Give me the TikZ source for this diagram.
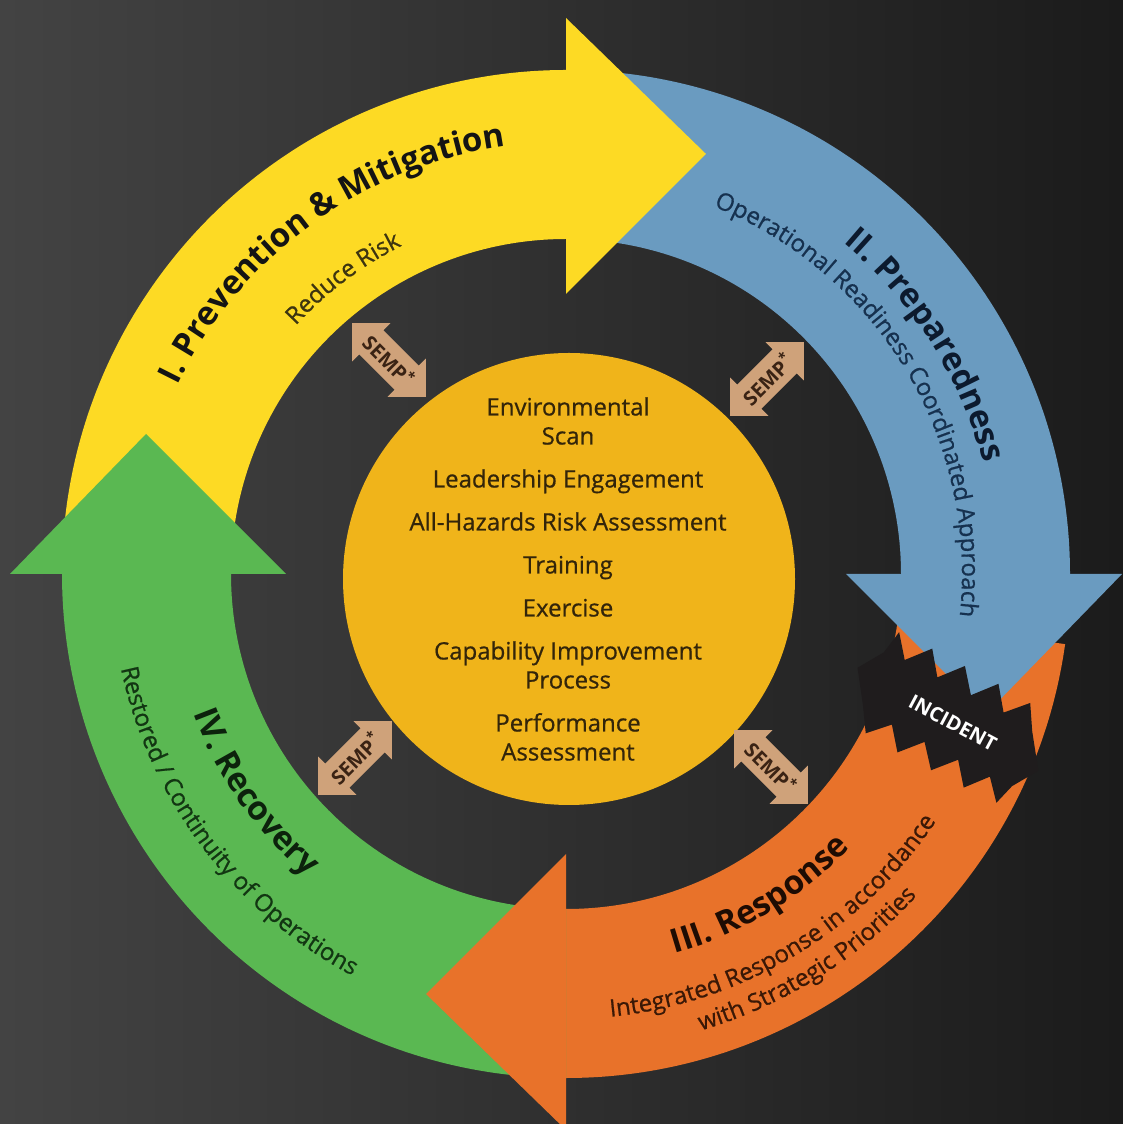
\documentclass[tikz,border=0pt]{standalone}
\usepackage{fontspec}
\setmainfont{Open Sans}
\newfontfamily\medfont{Open Sans}[FakeBold=0.7]
\usetikzlibrary{decorations.text,calc}
\definecolor{bgL}{HTML}{434343}
\definecolor{bgM}{HTML}{3C3C3C}
\definecolor{bgR}{HTML}{1B1B1B}
\definecolor{ylw}{HTML}{FDDA24}
\definecolor{blu}{HTML}{6A9BC0}
\definecolor{org}{HTML}{E8722A}
\definecolor{grn}{HTML}{5AB852}
\definecolor{disk}{HTML}{F0B41A}
\definecolor{disktext}{HTML}{33250A}
\definecolor{tanc}{HTML}{CFA27A}
\definecolor{semptext}{HTML}{3A2314}
\definecolor{ytt}{HTML}{141414}
\definecolor{yst}{HTML}{3D3510}
\definecolor{btt}{HTML}{0C1A2E}
\definecolor{bst}{HTML}{16314F}
\definecolor{gtt}{HTML}{0C220C}
\definecolor{gst}{HTML}{123612}
\definecolor{ott}{HTML}{1E0C03}
\definecolor{ost}{HTML}{3A1806}
\definecolor{burst}{HTML}{1F1C1D}
\newcommand\ArcTitle{\fontsize{33}{36}\selectfont\bfseries}
\newcommand\ArcSub{\medfont\fontsize{24}{27}\selectfont}
\tikzset{
  arctext/.style={decorate,decoration={text along path,text align=center,text={#1}}},
  semp/.pic={
    \fill[tanc] (-52,0) -- (-25,27) -- (-25,17) -- (25,17) -- (25,27) -- (52,0)
      -- (25,-27) -- (25,-17) -- (-25,-17) -- (-25,-27) -- cycle;
    \node[transform shape,font=\fontsize{20}{20}\selectfont\bfseries,text=semptext,inner sep=0pt] {SEMP\textsuperscript{*}};
  }
}
\begin{document}
\begin{tikzpicture}[x=1pt,y=1pt]
\useasboundingbox (0,0) rectangle (1123,1124);
\shade[left color=bgL,middle color=bgM,right color=bgR] (0,0) rectangle (1123,1124);
\coordinate (C) at (566,550);
% band bodies
\fill[ylw] ([shift={(180:504)}]C) arc[start angle=180,end angle=88,radius=504] -- ++(268:169) arc[start angle=88,end angle=180,radius=335] -- cycle;
\fill[blu] ([shift={(90:504)}]C) arc[start angle=90,end angle=-2,radius=504] -- ++(178:169) arc[start angle=-2,end angle=90,radius=335] -- cycle;
\fill[org] ([shift={(-8:504)}]C) arc[start angle=-8,end angle=-92,radius=504] -- ++(88:169) arc[start angle=-92,end angle=-8,radius=335] -- cycle;
\fill[grn] ([shift={(-90:504)}]C) arc[start angle=-90,end angle=-182,radius=504] -- ++(-2:169) arc[start angle=-182,end angle=-90,radius=335] -- cycle;
% arrow heads
\foreach \a/\c in {90/ylw,0/blu,-90/org,180/grn}{
  \fill[\c] ([shift={(\a:280)}]C) -- ([shift={(\a:556)}]C) -- ($(C)+(\a:420)+({\a-90}:140)$) -- cycle;
}
% incident burst
\begin{scope}[shift={(951,402)},rotate=-28]
\fill[burst] (-108,4) -- (-92,30) -- (-88,55) -- (-70,33) -- (-51,56) -- (-33,33) -- (-14,56) -- (5,33) -- (24,56) -- (42,33) -- (61,54) -- (76,30) -- (100,-2)
  -- (84,-28) -- (78,-50) -- (60,-30) -- (42,-52) -- (24,-30) -- (5,-52) -- (-14,-30) -- (-33,-52) -- (-51,-30) -- (-70,-50) -- (-86,-26) -- cycle;
\node[transform shape,font=\fontsize{20}{20}\selectfont\bfseries,text=white,inner sep=0pt] (incident) at (2,0) {INCIDENT};
\end{scope}
% centre disk
\node[circle,fill=disk,minimum size=452pt,inner sep=0pt] (hub) at (569,545) {};
\node[align=center,font=\medfont\fontsize{24}{29}\selectfont,text=disktext] (hubtext) at (568,545)
 {Environmental\\Scan\\[14pt]Leadership Engagement\\[14pt]All-Hazards Risk Assessment\\[14pt]Training\\[14pt]Exercise\\[14pt]Capability Improvement\\Process\\[14pt]Performance\\Assessment};
% SEMP double arrows
\pic[rotate=-45] (s1) at (389,764) {semp};
\pic[rotate=45] (s2) at (767,745) {semp};
\pic[rotate=45] (s3) at (355,366) {semp};
\pic[rotate=-45] (s4) at (771,357) {semp};
% arc texts
\path[arctext={|\ArcTitle\color{ytt}|I. Prevention {\&} Mitigation}] ([shift={(176:432)}]C) arc[start angle=176,end angle=76,radius=432];
\path[arctext={|\ArcSub\color{yst}|Reduce Risk}] ([shift={(160:367)}]C) arc[start angle=160,end angle=94,radius=367];
\path[arctext={|\ArcTitle\color{btt}|II. Preparedness}] ([shift={(80:432)}]C) arc[start angle=80,end angle=-15,radius=432];
\path[arctext={|\ArcSub\color{bst}|Operational Readiness Coordinated Approach}] ([shift={(100:396)}]C) arc[start angle=100,end angle=-38,radius=396];
\path[arctext={|\ArcTitle\color{gtt}|IV. Recovery}] ([shift={(170:398)}]C) arc[start angle=170,end angle=260,radius=398];
\path[arctext={|\ArcSub\color{gst}|Restored / Continuity of Operations}] ([shift={(160:455)}]C) arc[start angle=160,end angle=274,radius=455];
\path[arctext={|\ArcTitle\color{ott}|III. Response}] ([shift={(256:395)}]C) arc[start angle=256,end angle=346,radius=395];
\path[arctext={|\ArcSub\color{ost}|Integrated Response in accordance}] ([shift={(250:445)}]C) arc[start angle=250,end angle=352,radius=445];
\path[arctext={|\ArcSub\color{ost}|with Strategic Priorities}] ([shift={(256:476)}]C) arc[start angle=256,end angle=348,radius=476];
\end{tikzpicture}
\end{document}
